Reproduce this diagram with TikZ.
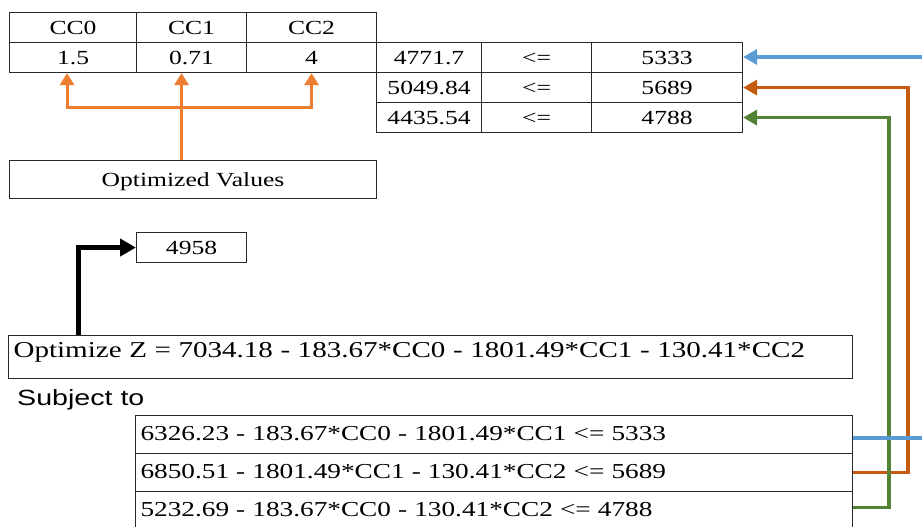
\documentclass[tikz,border=0pt]{standalone}
\usepackage{fontspec}
\setmainfont{Liberation Serif}[FakeStretch=1.28]
\newfontfamily\subjfont{Liberation Sans}[FakeStretch=1.3]
\usetikzlibrary{arrows.meta,calc}
\definecolor{lightOrange}{RGB}{237,125,49}
\definecolor{darkOrange}{RGB}{197,90,17}
\definecolor{arrGreen}{RGB}{84,130,53}
\definecolor{arrBlue}{RGB}{91,155,213}
\definecolor{gridline}{RGB}{40,40,40}
\begin{document}
\begin{tikzpicture}[x=1pt,y=-1pt,
  cell/.style={draw=gridline, line width=1.1pt, inner sep=0pt, anchor=north west,
    text height=14pt, text depth=0pt, font=\fontsize{20}{24}\selectfont},
  eqbox/.style={draw=gridline, line width=1.1pt, anchor=north west, inner xsep=5pt,
    inner ysep=0pt, align=left, font=\fontsize{21.3}{26}\selectfont},
  topArrow/.style={draw=lightOrange, line width=3pt, -{Triangle[length=12pt,width=14pt]}},
  blackArrow/.style={draw=black, line width=5pt, -{Triangle[length=16pt,width=17pt]}},
  sideLine/.style={line width=3.5pt},
  sideArrow/.style={line width=3.5pt, -{Triangle[length=14pt,width=15pt]}}
]
\clip (0,0) rectangle (922,527);
\fill[white] (0,0) rectangle (922,527);

% top-left table
\node[cell, minimum width=127pt, minimum height=30pt] (h0) at (9,12) {CC0};
\node[cell, minimum width=110pt, minimum height=30pt] (h1) at (136,12) {CC1};
\node[cell, minimum width=130pt, minimum height=30pt] (h2) at (246,12) {CC2};
\node[cell, minimum width=127pt, minimum height=30pt] (v0) at (9,42) {1.5};
\node[cell, minimum width=110pt, minimum height=30pt] (v1) at (136,42) {0.71};
\node[cell, minimum width=130pt, minimum height=30pt] (v2) at (246,42) {4};

% right table
\node[cell, minimum width=105pt, minimum height=30pt] (l1) at (376,42) {4771.7};
\node[cell, minimum width=110pt, minimum height=30pt] (m1) at (481,42) {<=};
\node[cell, minimum width=151pt, minimum height=30pt] (r1) at (591,42) {5333};
\node[cell, minimum width=105pt, minimum height=30pt] (l2) at (376,72) {5049.84};
\node[cell, minimum width=110pt, minimum height=30pt] (m2) at (481,72) {<=};
\node[cell, minimum width=151pt, minimum height=30pt] (r2) at (591,72) {5689};
\node[cell, minimum width=105pt, minimum height=30pt] (l3) at (376,102) {4435.54};
\node[cell, minimum width=110pt, minimum height=30pt] (m3) at (481,102) {<=};
\node[cell, minimum width=151pt, minimum height=30pt] (r3) at (591,102) {4788};

% labels and result
\node[cell, minimum width=367pt, minimum height=38pt] (opt) at (9,160) {Optimized Values};
\node[cell, minimum width=110pt, minimum height=30pt] (res) at (136,232) {4958};

% objective and constraints
\node[eqbox, text width=834pt, minimum height=43pt, text height=8pt, text depth=8pt,
  font=\fontsize{22.7}{26}\selectfont] (obj) at (8,335)
  {Optimize Z = 7034.18 - 183.67*CC0 - 1801.49*CC1 - 130.41*CC2};
\node[anchor=base west, inner sep=0pt, font=\subjfont\fontsize{22}{26}\selectfont] (subj) at (17,405) {Subject to};
\node[eqbox, text width=707pt, minimum height=38pt, text height=14pt, text depth=2pt] (k1) at (135,415)
  {6326.23 - 183.67*CC0 - 1801.49*CC1 <= 5333};
\node[eqbox, text width=707pt, minimum height=38pt, text height=14pt, text depth=2pt] (k2) at (135,453)
  {6850.51 - 1801.49*CC1 - 130.41*CC2 <= 5689};
\node[eqbox, text width=707pt, minimum height=38pt, text height=14pt, text depth=2pt] (k3) at (135,491)
  {5232.69 - 183.67*CC0 - 130.41*CC2 <= 4788};

% orange arrows to optimized values
\coordinate (ojoin) at ($(v1.south)+(-10,34)$);
\draw[topArrow] (opt.north -| ojoin) -- (ojoin |- v1.south);
\draw[topArrow] (ojoin) -| ($(v0.south)+(-6,0)$);
\draw[topArrow] (ojoin) -| (v2.south);

% black arrow to result
\draw[blackArrow] ($(obj.north west)+(70,0)$) |- (res.west);

% right-side connectors
\coordinate (bOutLow) at (935,438);
\coordinate (bOutHigh) at (935,57);
\coordinate (oV) at (908,300);
\coordinate (gV) at (889,300);
\draw[sideArrow, draw=darkOrange] (k2.east) -| (oV) |- (r2.east);
\draw[sideArrow, draw=arrGreen] ($(k3.east)+(0,-3)$) -| (gV) |- (r3.east);
\draw[sideLine, draw=arrBlue] (bOutLow -| k1.east) -- (bOutLow);
\draw[sideArrow, draw=arrBlue] (bOutHigh) -- (bOutHigh -| r1.east);
\end{tikzpicture}
\end{document}
